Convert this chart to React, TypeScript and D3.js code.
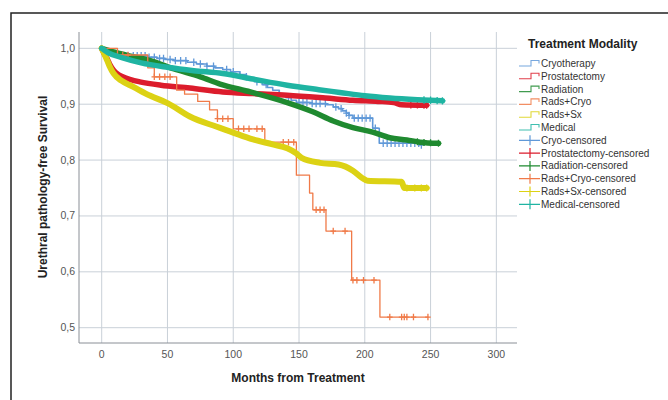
import React from "react";
import * as d3 from "d3";

type Pt = [number, number];

const xTicks = [0, 50, 100, 150, 200, 250, 300];
const yTicks = [0.5, 0.6, 0.7, 0.8, 0.9, 1.0];

const cryo: Pt[] = [[0,1.0],[3,0.995],[8,0.99],[15,0.987],[35,0.984],[42,0.982],[48,0.98],[55,0.978],[65,0.975],[72,0.972],[80,0.968],[86,0.965],[92,0.962],[98,0.958],[105,0.953],[110,0.949],[113,0.946],[118,0.94],[122,0.935],[126,0.93],[130,0.925],[135,0.918],[140,0.912],[144,0.907],[148,0.903],[160,0.901],[171,0.899],[176,0.895],[180,0.892],[183,0.888],[186,0.884],[188,0.88],[191,0.875],[205,0.875],[206,0.857],[211,0.83],[243,0.827]];
const prost: Pt[] = [[0,1.0],[2,0.99],[4,0.982],[6,0.972],[9,0.961],[12,0.954],[16,0.949],[22,0.944],[29,0.94],[45,0.934],[67,0.929],[92,0.922],[115,0.919],[141,0.916],[170,0.911],[191,0.907],[210,0.905],[222,0.903],[228,0.899],[247,0.898]];
const radiation: Pt[] = [[0,1.0],[10,0.993],[20,0.987],[37,0.978],[55,0.963],[75,0.949],[90,0.936],[113,0.922],[141,0.903],[160,0.887],[176,0.870],[191,0.858],[206,0.850],[219,0.840],[232,0.836],[242,0.832],[256,0.830]];
const radsCryo: Pt[] = [[0,1.0],[12,0.988],[35,0.965],[40,0.949],[57,0.925],[63,0.918],[73,0.905],[82,0.89],[88,0.874],[100,0.856],[124,0.832],[148,0.773],[158,0.741],[160.5,0.711],[170.5,0.673],[190,0.585],[211.5,0.519],[248,0.519]];
const radsSx: Pt[] = [[0,1.0],[3,0.985],[6,0.968],[9,0.955],[15,0.942],[24,0.931],[37,0.915],[50,0.902],[67,0.878],[87,0.86],[98,0.851],[115,0.837],[130,0.828],[141,0.821],[148,0.812],[152,0.804],[166,0.795],[180,0.792],[191,0.781],[198,0.768],[202,0.763],[228,0.761],[230,0.75],[247,0.75]];
const medical: Pt[] = [[0,1.0],[5,0.992],[16,0.983],[30,0.974],[50,0.966],[70,0.960],[92,0.955],[115,0.945],[141,0.934],[165,0.926],[181,0.921],[200,0.915],[219,0.911],[240,0.908],[259,0.906]];

const cryoCens = [20,24,27,30,33,36,40,44,47,52,56,60,64,70,75,80,85,95,100,105,110,118,125,135,142,150,153,156,160,163,166,170,178,182,186,188,192,195,198,201,204,208,214,217,220,223,226,229,232,235,238,241,243];
const radsCryoCens = [16,20,40,44,48,52,88,92,96,104,108,112,118,122,138,142,146,163,166,169,176,185,191,194,199,207,219,228,230,232,237,248];
const prostCens = [235,240,245,247];
const radiationCens = [240,245,250,256];
const radsSxCens = [232,238,243,247];
const medicalCens = [245,250,255,259];

const legendLabels = ["Cryotherapy","Prostatectomy","Radiation","Rads+Cryo","Rads+Sx","Medical","Cryo-censored","Prostatectomy-censored","Radiation-censored","Rads+Cryo-censored","Rads+Sx-censored","Medical-censored"];

const COLORS = ["#5f98d8", "#dc1c2c", "#1f8a30", "#f07a48", "#dcd214", "#1fb4a2"];

const series = [
  { data: cryo, cens: cryoCens, color: COLORS[0], width: 1.6, mark: 3.2, step: true },
  { data: prost, cens: prostCens, color: COLORS[1], width: 5.5, mark: 3, step: false },
  { data: radiation, cens: radiationCens, color: COLORS[2], width: 5.5, mark: 3, step: false },
  { data: radsCryo, cens: radsCryoCens, color: COLORS[3], width: 1.3, mark: 2.8, step: true },
  { data: radsSx, cens: radsSxCens, color: COLORS[4], width: 6, mark: 3, step: false },
  { data: medical, cens: medicalCens, color: COLORS[5], width: 5.5, mark: 3.2, step: false },
];

function survAt(data: Pt[], t: number, step: boolean): number {
  if (!step) {
    for (let i = 1; i < data.length; i++) {
      if (data[i][0] >= t) {
        const [t0, s0] = data[i - 1], [t1, s1] = data[i];
        return s0 + (s1 - s0) * (t - t0) / (t1 - t0 || 1);
      }
    }
    return data[data.length - 1][1];
  }
  let v = data[0][1];
  for (const [tt, s] of data) { if (tt <= t) v = s; else break; }
  return v;
}

export default function App() {
  const x = d3.scaleLinear().domain([-17.25, 315.7]).range([79, 517]);
  const y = d3.scaleLinear().domain([0.4726, 1.0292]).range([343, 32]);
  const stepLine = d3.line<Pt>().x(d => x(d[0])).y(d => y(d[1])).curve(d3.curveStepAfter);
  const smoothLine = d3.line<Pt>().x(d => x(d[0])).y(d => y(d[1])).curve(d3.curveMonotoneX);
  const fmt = (v: number) => d3.format(".1f")(v).replace(".", ",");
  const font = "'Liberation Sans', Arial, sans-serif";

  return (
    <svg width={668} height={400} style={{ position: "absolute", left: 0, top: 0, background: "#fff" }} fontFamily={font}>
      <rect x={0} y={0} width={668} height={400} fill="#fff" />
      <rect x={11} y={13} width={720} height={500} fill="none" stroke="#222" strokeWidth={1.5} />
      {xTicks.map(t => (
        <line key={"gx" + t} x1={x(t)} x2={x(t)} y1={32} y2={343} stroke="#c9d0d8" strokeWidth={1} />
      ))}
      {yTicks.map(t => (
        <line key={"gy" + t} x1={79} x2={517} y1={y(t)} y2={y(t)} stroke="#c9d0d8" strokeWidth={1} />
      ))}
      <line x1={79} x2={79} y1={32} y2={343} stroke="#8a8f96" strokeWidth={1} />
      <line x1={79} x2={517} y1={343} y2={343} stroke="#8a8f96" strokeWidth={1} />
      {xTicks.map(t => (
        <text key={"tx" + t} x={x(t)} y={358} fontSize={10.5} fill="#555" textAnchor="middle">{t}</text>
      ))}
      {yTicks.map(t => (
        <text key={"ty" + t} x={75} y={y(t) + 3.5} fontSize={10.5} fill="#555" textAnchor="end">{fmt(t)}</text>
      ))}
      <text x={298} y={382} fontSize={12} fontWeight="bold" fill="#222" textAnchor="middle">Months from Treatment</text>
      <text transform={`translate(47,${187}) rotate(-90)`} fontSize={12} fontWeight="bold" fill="#222" textAnchor="middle">Urethral pathology-free Survival</text>
      {series.map((s, i) => (
        <g key={"s" + i}>
          <path d={(s.step ? stepLine(s.data) : smoothLine(s.data)) || ""} fill="none" stroke={s.color} strokeWidth={s.width} strokeLinejoin="round" strokeLinecap="round" />
          {s.cens.map((t, j) => {
            const cx = x(t), cy = y(survAt(s.data, t, s.step));
            return (
              <path key={j} d={`M${cx - s.mark},${cy}H${cx + s.mark}M${cx},${cy - s.mark - 0.5}V${cy + s.mark + 0.5}`} stroke={s.color} strokeWidth={1.3} fill="none" />
            );
          })}
        </g>
      ))}
      <text x={528} y={48} fontSize={12} fontWeight="bold" fill="#222">Treatment Modality</text>
      {legendLabels.map((lab, i) => {
        const ly = 63.5 + i * 12.8;
        const c = COLORS[i % 6];
        const icon = i < 6
          ? <path d={`M519,${ly + 2.5}H531V${ly - 3}H539V${ly}`} fill="none" stroke={c} strokeWidth={1.1} opacity={0.85} />
          : <path d={`M519,${ly}H540M530,${ly - 5}V${ly + 5}`} fill="none" stroke={c} strokeWidth={1.2} />;
        return (
          <g key={"l" + i}>
            {icon}
            <text x={541} y={ly + 3.5} fontSize={10} fill="#333">{lab}</text>
          </g>
        );
      })}
    </svg>
  );
}
